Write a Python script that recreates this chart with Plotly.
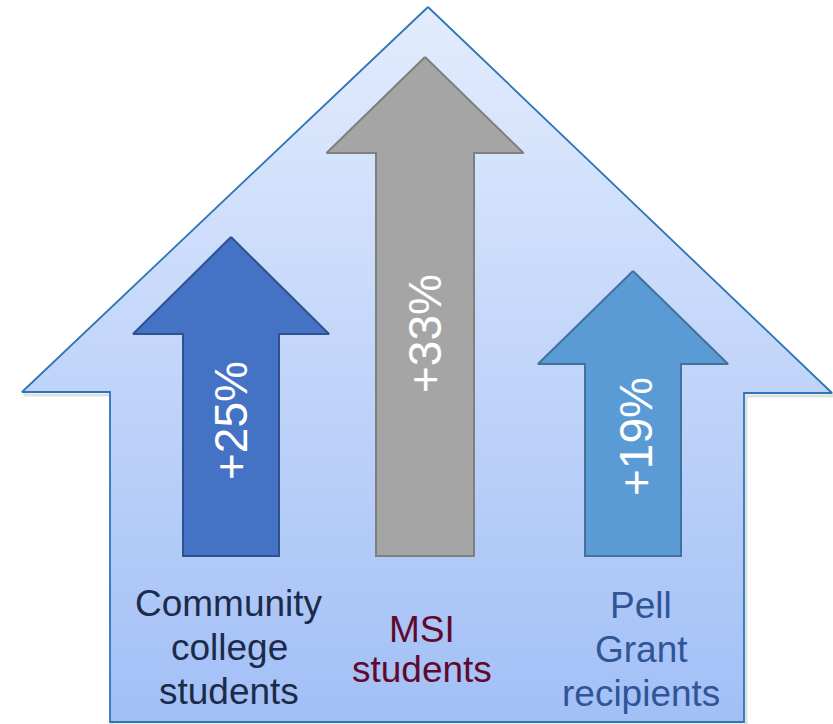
import plotly.graph_objects as go

# ---- data ----
categories = [["Community", "college", "students"],
              ["MSI", "students"],
              ["Pell", "Grant", "recipients"]]
growth_pct = [25, 33, 19]
value_labels = [f"+{v}%" for v in growth_pct]

# ---- styles / layout constants (pixel-like units) ----
W, H = 833, 724
arrow_fill = ["#4472C4", "#A5A5A5", "#5B9BD5"]
arrow_line = ["#2F528F", "#7F7F7F", "#41719C"]
label_color = ["#1C2B4A", "#5F0A2C", "#2F5597"]
arrow_cx = [231, 425, 633]
arrow_tip = [237, 57, 271]
head_base = [334, 153, 364]
head_half = [98, 98.5, 95]
shaft_half = [48, 49, 48]
arrow_bottom = 556
value_x = [231, 425, 636]
value_y = [421, 334, 437]
label_x = [229, 422, 641]
label_first_baseline = [616, 642, 618]
label_gap = [44, 40, 44]
FONT = "Arial, Liberation Sans, sans-serif"
LBL_SIZE = 37
VAL_SIZE = 46

fig = go.Figure()

# house shadow
hx = [428, 832, 744, 744, 110, 110, 22, 428]
hy = [7, 393, 393, 722, 722, 392, 392, 7]
fig.add_trace(go.Scatter(x=[v + 2 for v in hx], y=[v + 3 for v in hy], mode="lines",
                         line=dict(color="rgba(0,0,0,0.12)", width=3),
                         hoverinfo="skip", showlegend=False))
# house
fig.add_trace(go.Scatter(x=hx, y=hy, mode="lines", fill="toself",
                         fillgradient=dict(type="vertical",
                                           colorscale=[[0, "#E2ECFD"], [1, "#A2BFF6"]],
                                           start=7, stop=722),
                         line=dict(color="#2E75B6", width=1.8),
                         hoverinfo="skip", showlegend=False))

for i in range(len(growth_pct)):
    cx = arrow_cx[i]
    xs = [cx, cx + head_half[i], cx + shaft_half[i], cx + shaft_half[i],
          cx - shaft_half[i], cx - shaft_half[i], cx - head_half[i], cx]
    ys = [arrow_tip[i], head_base[i], head_base[i], arrow_bottom,
          arrow_bottom, head_base[i], head_base[i], arrow_tip[i]]
    fig.add_trace(go.Scatter(x=xs, y=ys, mode="lines", fill="toself",
                             fillcolor=arrow_fill[i],
                             line=dict(color=arrow_line[i], width=2),
                             hoverinfo="skip", showlegend=False))
    fig.add_annotation(x=value_x[i], y=value_y[i], text=value_labels[i], textangle=-90,
                       showarrow=False, xanchor="center", yanchor="middle",
                       font=dict(family=FONT, size=VAL_SIZE, color="white"))
    for j, line in enumerate(categories[i]):
        base = label_first_baseline[i] + j * label_gap[i]
        fig.add_annotation(x=label_x[i], y=base - 13, text=line, showarrow=False,
                           xanchor="center", yanchor="middle",
                           font=dict(family=FONT, size=LBL_SIZE, color=label_color[i]))

fig.update_layout(
    width=W, height=H, margin=dict(l=0, r=0, t=0, b=0),
    paper_bgcolor="white", plot_bgcolor="white",
    xaxis=dict(range=[0, W], visible=False, fixedrange=True),
    yaxis=dict(range=[H, 0], visible=False, fixedrange=True),
    showlegend=False,
)

fig.write_html("out.html")
